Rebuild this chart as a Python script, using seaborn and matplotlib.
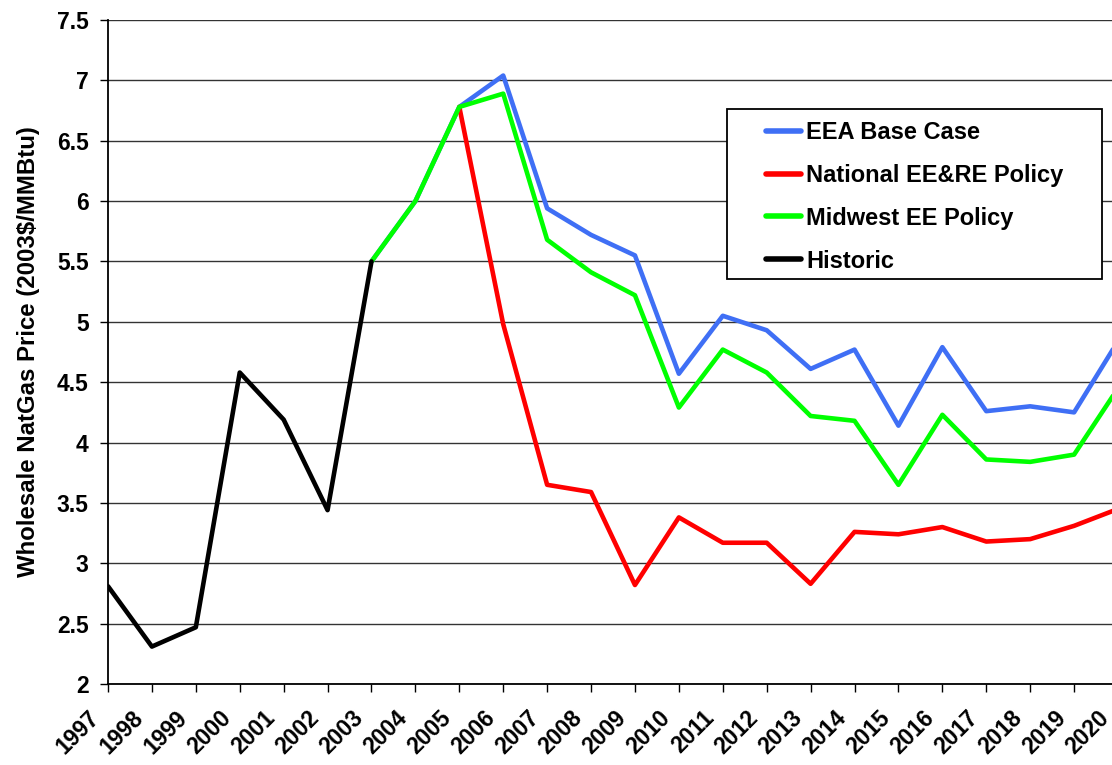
import numpy as np
import pandas as pd
import matplotlib
matplotlib.use("Agg")
import matplotlib.pyplot as plt
import matplotlib.transforms as mtransforms
from matplotlib.patches import Rectangle
import seaborn as sns

sns.set_style("white")
plt.rcParams['font.family'] = ['Liberation Sans', 'DejaVu Sans']
plt.rcParams['text.color'] = 'black'
plt.rcParams['axes.labelcolor'] = 'black'
plt.rcParams['xtick.color'] = 'black'
plt.rcParams['ytick.color'] = 'black'

# data
hist_years = [1997, 1998, 1999, 2000, 2001, 2002, 2003]
hist_vals = [2.81, 2.31, 2.47, 4.58, 4.19, 3.44, 5.50]

proj_years = list(range(2003, 2021))
base_vals = [5.50, 6.00, 6.78, 7.04, 5.94, 5.72, 5.55, 4.57, 5.05, 4.93,
             4.61, 4.77, 4.14, 4.79, 4.26, 4.30, 4.25, 4.84]
midwest_vals = [5.50, 6.00, 6.78, 6.89, 5.68, 5.41, 5.22, 4.29, 4.77, 4.58,
                4.22, 4.18, 3.65, 4.23, 3.86, 3.84, 3.90, 4.45]

natl_years = list(range(2005, 2021))
natl_vals = [6.78, 4.98, 3.65, 3.59, 2.82, 3.38, 3.17, 3.17, 2.83, 3.26,
             3.24, 3.30, 3.18, 3.20, 3.31, 3.45]

year_labels = [str(y) for y in range(1997, 2021)]

fig = plt.figure(figsize=(11.12, 7.65), dpi=100)
# the original is cropped on the right: 2020 sits just past the edge
ax = fig.add_axes([108 / 1112, 1 - 684 / 765, 1010 / 1112, 664 / 765])

lw = 3.3
sns.lineplot(x=proj_years, y=base_vals, color='#3f6ff5', lw=lw, ax=ax,
             label='EEA Base Case', zorder=3)
sns.lineplot(x=natl_years, y=natl_vals, color='#ff0000', lw=lw, ax=ax,
             label='National EE&RE Policy', zorder=4)
sns.lineplot(x=proj_years, y=midwest_vals, color='#00ff00', lw=lw, ax=ax,
             label='Midwest EE Policy', zorder=5)
sns.lineplot(x=hist_years, y=hist_vals, color='black', lw=lw, ax=ax,
             label='Historic', zorder=6)

ax.set_xlim(1997, 2020)
ax.set_ylim(2, 7.5)
ax.set_yticks(np.arange(2, 7.51, 0.5))
ax.set_yticklabels(['2', '2.5', '3', '3.5', '4', '4.5', '5', '5.5', '6', '6.5', '7', '7.5'])
ax.set_xticks(range(1997, 2021))
ax.set_xticklabels(year_labels, rotation=45, ha='right', va='center',
                   rotation_mode='anchor')
ax.yaxis.grid(True, color='#333333', lw=1)
ax.xaxis.grid(False)
for side in ['top', 'right']:
    ax.spines[side].set_visible(False)
for side in ['left', 'bottom']:
    ax.spines[side].set_color('black')
    ax.spines[side].set_linewidth(1.3)
ax.tick_params(axis='both', which='both', direction='out', length=6, width=1,
               labelsize=16.5, bottom=True, left=True)
ax.tick_params(axis='x', pad=16)
ax.tick_params(axis='y', pad=8)
shift = mtransforms.ScaledTranslation(-12 / 100, 0, fig.dpi_scale_trans)
for lab in ax.get_xticklabels():
    lab.set_fontweight('bold')
    lab.set_transform(lab.get_transform() + shift)
for lab in ax.get_yticklabels():
    lab.set_fontweight('bold')
ax.set_ylabel('Wholesale NatGas Price (2003$/MMBtu)', fontsize=17.3,
              fontweight='bold', labelpad=12)
ax.set_xlabel('')

# legend box drawn as a patch so the inner padding can match
box = Rectangle(((727 - 108) / 1010, (684 - 279) / 664), 375 / 1010, 170 / 664,
                transform=ax.transAxes, facecolor='white', edgecolor='black',
                lw=1.3, zorder=7)
ax.add_patch(box)
leg = ax.legend(loc='upper left', bbox_to_anchor=((766 - 108) / 1010, (684 - 121) / 664),
                borderaxespad=0, frameon=False,
                prop={'size': 17, 'weight': 'bold'}, handlelength=1.5,
                labelspacing=0.84, borderpad=0, handletextpad=0.2)
leg.set_zorder(8)
for h in leg.get_lines():
    h.set_linewidth(4)

fig.savefig('out.png', dpi=100)
